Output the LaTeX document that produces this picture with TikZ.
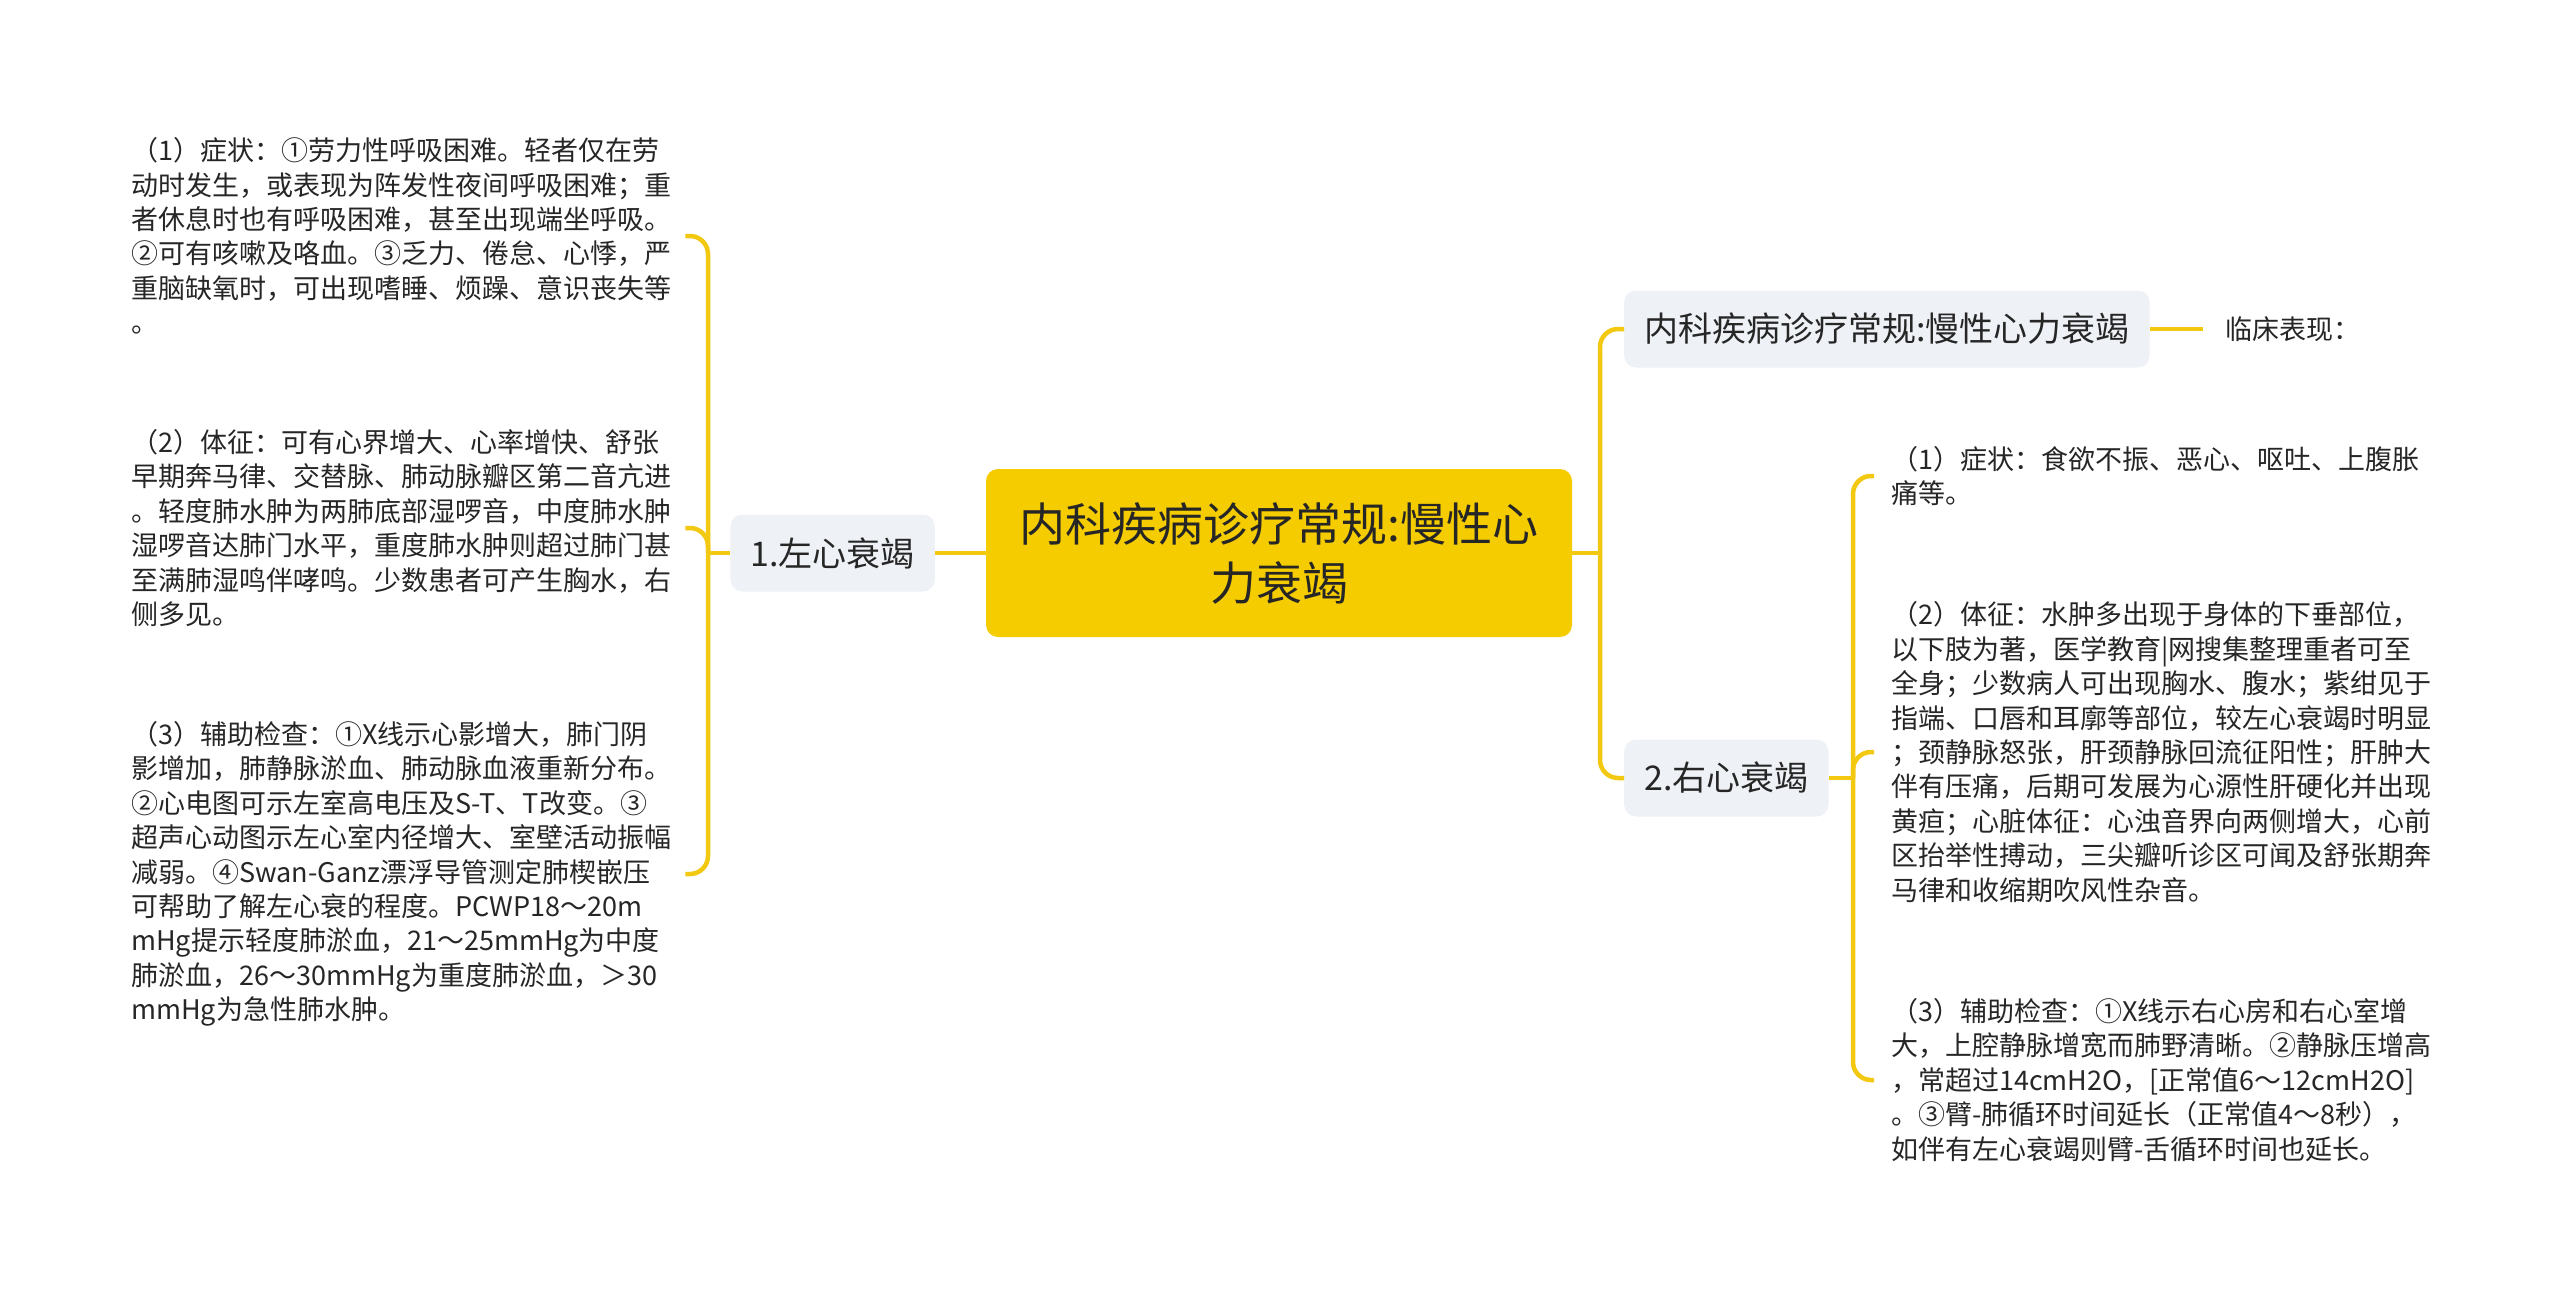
\documentclass[tikz,border=0pt]{standalone}
\usepackage{fontspec}
\setmainfont{Noto Sans CJK SC}
\definecolor{myyellow}{HTML}{F5CC00}
\definecolor{linecol}{HTML}{F2C811}
\definecolor{grayfill}{HTML}{EEF1F5}
\definecolor{txt}{HTML}{262626}
\begin{document}
\begin{tikzpicture}[x=1pt,y=-1pt,
  conn/.style={draw=linecol, line width=4.5pt, rounded corners=18pt},
  rootbox/.style={fill=myyellow, rounded corners=12pt, minimum width=586pt, minimum height=168pt, align=center, text=txt, font={\fontsize{46}{59}\selectfont}},
  branchbox/.style={fill=grayfill, rounded corners=12pt, minimum height=77pt, inner xsep=20pt, text=txt, font={\fontsize{34}{40}\selectfont}},
  leafL/.style={anchor=west, align=left, inner ysep=0pt, inner xsep=7pt, text width=547pt, text=txt, font={\fontsize{27}{34.4}\selectfont\exhyphenpenalty=10000 \hyphenpenalty=10000 }},
  leafR/.style={anchor=west, align=left, inner ysep=0pt, inner xsep=17pt, text width=560pt, text=txt, font={\fontsize{27}{34.4}\selectfont\exhyphenpenalty=10000 \hyphenpenalty=10000 }},
  plain/.style={anchor=west, inner xsep=22pt, text=txt, font={\fontsize{27}{32}\selectfont}}
]
\useasboundingbox[fill=white] (0,0) rectangle (2560,1296);

% nodes
\node[rootbox] (root) at (1279,553) {内科疾病诊疗常规:慢性心\\力衰竭};
\node[branchbox, anchor=east] (L) at (935,553) {1.左心衰竭};
\node[branchbox, anchor=west] (R1) at (1624,329) {内科疾病诊疗常规:慢性心力衰竭};
\node[branchbox, anchor=west] (R2) at (1624,778) {2.右心衰竭};
\node[plain] (clin) at (2203,329) {临床表现：};

\node[leafL] (Lt1) at (124,236) {（1）症状：①劳力性呼吸困难。轻者仅在劳\\动时发生，或表现为阵发性夜间呼吸困难；重\\者休息时也有呼吸困难，甚至出现端坐呼吸。\\②可有咳嗽及咯血。③乏力、倦怠、心悸，严\\重脑缺氧时，可出现嗜睡、烦躁、意识丧失等\\。};
\node[leafL] (Lt2) at (124,528) {（2）体征：可有心界增大、心率增快、舒张\\早期奔马律、交替脉、肺动脉瓣区第二音亢进\\。轻度肺水肿为两肺底部湿啰音，中度肺水肿\\湿啰音达肺门水平，重度肺水肿则超过肺门甚\\至满肺湿鸣伴哮鸣。少数患者可产生胸水，右\\侧多见。};
\node[leafL] (Lt3) at (124,874) {（3）辅助检查：①X线示心影增大，肺门阴\\影增加，肺静脉淤血、肺动脉血液重新分布。\\②心电图可示左室高电压及S-T、T改变。③\\超声心动图示左心室内径增大、室壁活动振幅\\减弱。④Swan-Ganz漂浮导管测定肺楔嵌压\\可帮助了解左心衰的程度。PCWP18～20m\\mHg提示轻度肺淤血，21～25mmHg为中度\\肺淤血，26～30mmHg为重度肺淤血，＞30\\mmHg为急性肺水肿。};

\node[leafR] (Rt1) at (1874,476) {（1）症状：食欲不振、恶心、呕吐、上腹胀\\痛等。};
\node[leafR] (Rt2) at (1874,752) {（2）体征：水肿多出现于身体的下垂部位，\\以下肢为著，医学教育|网搜集整理重者可至\\全身；少数病人可出现胸水、腹水；紫绀见于\\指端、口唇和耳廓等部位，较左心衰竭时明显\\；颈静脉怒张，肝颈静脉回流征阳性；肝肿大\\伴有压痛，后期可发展为心源性肝硬化并出现\\黄疸；心脏体征：心浊音界向两侧增大，心前\\区抬举性搏动，三尖瓣听诊区可闻及舒张期奔\\马律和收缩期吹风性杂音。};
\node[leafR] (Rt3) at (1874,1080) {（3）辅助检查：①X线示右心房和右心室增\\大，上腔静脉增宽而肺野清晰。②静脉压增高\\，常超过14cmH2O，[正常值6～12cmH2O]\\。③臂-肺循环时间延长（正常值4～8秒），\\如伴有左心衰竭则臂-舌循环时间也延长。};

% connectors
\coordinate (lbx) at (708,553);
\coordinate (rbx) at (1600,553);
\coordinate (rrx) at (1853,778);

\draw[conn] (root.west) -- (L.east);
\draw[conn] (L.west) -- (lbx);
\draw[conn] (Lt1.east) -| (lbx) |- (Lt3.east);
\draw[conn] (Lt2.east) -| (lbx);

\draw[conn] (root.east) -- (rbx);
\draw[conn] (R1.west) -| (rbx) |- (R2.west);
\draw[conn] (R1.east) -- (clin.west);

\draw[conn] (R2.east) -- (rrx);
\draw[conn] (Rt1.west) -| (rrx) |- (Rt3.west);
\draw[conn] (Rt2.west) -| (rrx);
\end{tikzpicture}
\end{document}
